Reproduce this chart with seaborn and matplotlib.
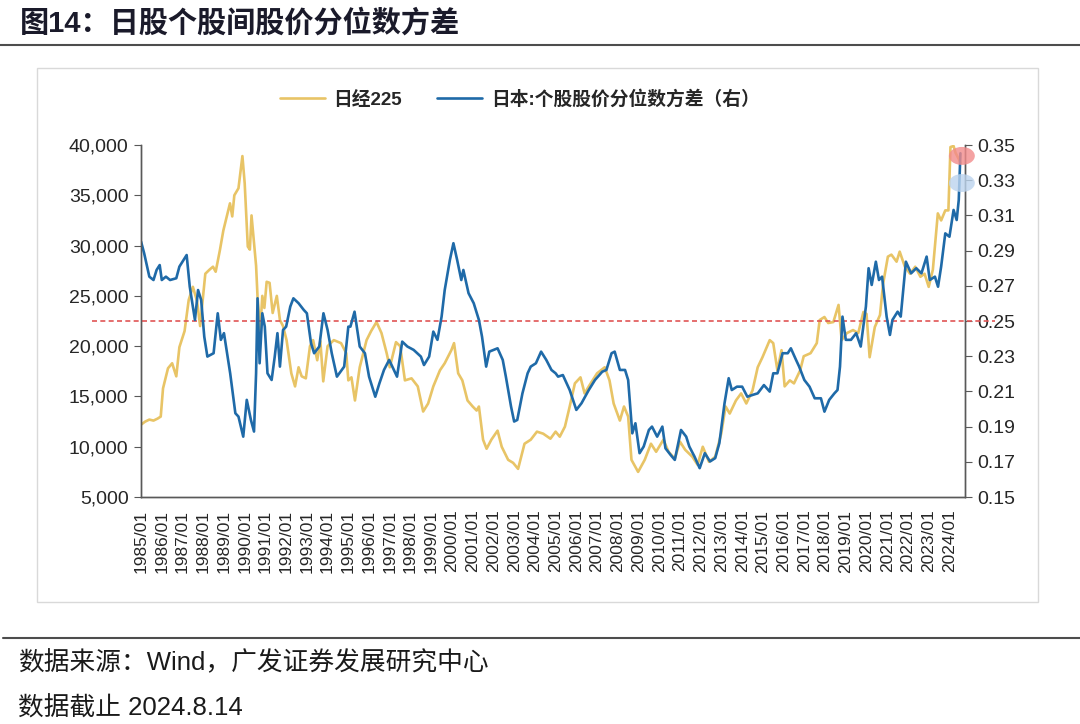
import numpy as np
import pandas as pd
import matplotlib
matplotlib.use("Agg")
import matplotlib.pyplot as plt
from matplotlib.patches import Ellipse, Rectangle
from matplotlib.lines import Line2D
import seaborn as sns

# ---- data (decimal years) ----
nk_t = [1985.0, 1985.2, 1985.4, 1985.6, 1985.8, 1985.95, 1986.06, 1986.3, 1986.5, 1986.7,
        1986.85, 1987.1, 1987.3, 1987.5, 1987.7, 1987.85, 1988.1, 1988.3, 1988.47, 1988.6,
        1988.8, 1988.97, 1989.15, 1989.29, 1989.4, 1989.5, 1989.7, 1989.89, 1990.0, 1990.15,
        1990.25, 1990.33, 1990.45, 1990.55, 1990.62, 1990.75, 1990.85, 1990.95, 1991.06, 1991.2,
        1991.35, 1991.55, 1991.7, 1991.85, 1992.02, 1992.25, 1992.43, 1992.6, 1992.75, 1992.95,
        1993.15, 1993.3, 1993.5, 1993.65, 1993.79, 1994.0, 1994.3, 1994.65, 1994.9, 1995.0,
        1995.15, 1995.32, 1995.55, 1995.88, 1996.1, 1996.36, 1996.6, 1996.85, 1997.0, 1997.3,
        1997.5, 1997.73, 1998.05, 1998.35, 1998.61, 1998.85, 1999.1, 1999.42, 1999.65, 1999.97,
        2000.1, 2000.3, 2000.5, 2000.75, 2001.0, 2001.19, 2001.3, 2001.5, 2001.67, 2001.9,
        2002.2, 2002.4, 2002.71, 2002.95, 2003.19, 2003.5, 2003.8, 2004.1, 2004.4, 2004.75,
        2005.0, 2005.2, 2005.45, 2005.68, 2005.93, 2006.2, 2006.4, 2006.6, 2007.0, 2007.37,
        2007.6, 2007.8, 2008.1, 2008.3, 2008.5, 2008.66, 2008.98, 2009.3, 2009.6, 2009.85,
        2010.2, 2010.45, 2010.75, 2011.0, 2011.25, 2011.6, 2011.85, 2012.1, 2012.4, 2012.7,
        2012.99, 2013.2, 2013.4, 2013.7, 2013.95, 2014.2, 2014.5, 2014.75, 2014.98, 2015.33,
        2015.5, 2015.7, 2015.9, 2016.05, 2016.3, 2016.5, 2016.8, 2016.97, 2017.3, 2017.6,
        2017.74, 2017.97, 2018.15, 2018.4, 2018.65, 2018.8, 2019.05, 2019.35, 2019.6, 2019.85,
        2020.0, 2020.15, 2020.4, 2020.65, 2020.8, 2021.03, 2021.2, 2021.45, 2021.6, 2021.85,
        2022.1, 2022.35, 2022.6, 2022.8, 2023.0, 2023.2, 2023.44, 2023.6, 2023.8, 2023.95,
        2024.05, 2024.2, 2024.3, 2024.45, 2024.53]
nk_v = [12200, 12500, 12700, 12600, 12800, 13000, 15800, 17800, 18300, 17000,
        19900, 21500, 24600, 25900, 24500, 22000, 27200, 27600, 27900, 27400,
        29500, 31500, 33000, 34200, 32900, 35000, 35700, 38900, 36200, 29900,
        29600, 33000, 30300, 28000, 24900, 21500, 25000, 23800, 26400, 26300,
        23300, 25000, 22600, 22000, 20600, 17300, 16000, 17900, 17000, 16800,
        20000, 20600, 18600, 20500, 16500, 20000, 20600, 20300, 19300, 16600,
        16900, 14600, 17900, 20600, 21500, 22400, 21300, 19300, 17900, 20400,
        20000, 16600, 16800, 16000, 13500, 14300, 16000, 17600, 18300, 19600,
        20300, 17300, 16600, 14600, 14000, 13600, 14000, 10700, 9800, 10700,
        11600, 10000, 8700, 8400, 7800, 10300, 10700, 11500, 11300, 10800,
        11500, 11000, 12000, 14000, 16300, 16900, 15300, 16000, 17300, 17900,
        16600, 14300, 12600, 14000, 13000, 8700, 7500, 8700, 10300, 9500,
        10700, 9500, 8800, 10500, 9700, 9000, 8200, 10000, 8500, 9000,
        11300, 14000, 13300, 14600, 15300, 14300, 15600, 17900, 18900, 20600,
        20300, 17600, 19600, 16000, 16600, 16300, 17600, 19000, 19300, 20300,
        22600, 22900, 22300, 22400, 24100, 20600, 21300, 21600, 21300, 23400,
        23200, 18900, 21900, 23100, 26200, 28900, 29100, 28400, 29400, 27900,
        27200, 27900, 26900, 27200, 25900, 27600, 33200, 32500, 33500, 33500,
        39800, 39900, 39200, 38600, 38200]

qv_t = [1985.0, 1985.15, 1985.4, 1985.6, 1985.75, 1985.9, 1986.0, 1986.2, 1986.4, 1986.7,
        1986.85, 1987.2, 1987.35, 1987.6, 1987.75, 1987.9, 1988.05, 1988.2, 1988.5, 1988.7,
        1988.85, 1989.0, 1989.3, 1989.55, 1989.7, 1989.93, 1990.1, 1990.3, 1990.45, 1990.55,
        1990.62, 1990.72, 1990.85, 1990.97, 1991.1, 1991.3, 1991.45, 1991.58, 1991.7, 1991.85,
        1992.0, 1992.2, 1992.35, 1992.6, 1992.85, 1993.0, 1993.2, 1993.35, 1993.6, 1993.8,
        1994.0, 1994.2, 1994.45, 1994.8, 1995.0, 1995.1, 1995.3, 1995.55, 1995.8, 1996.0,
        1996.3, 1996.5, 1996.72, 1996.97, 1997.2, 1997.35, 1997.6, 1997.85, 1998.15, 1998.5,
        1998.65, 1998.9, 1999.1, 1999.3, 1999.5, 1999.65, 1999.9, 2000.07, 2000.25, 2000.45,
        2000.55, 2000.8, 2001.05, 2001.3, 2001.45, 2001.65, 2001.8, 2002.2, 2002.45, 2002.6,
        2002.85, 2003.0, 2003.15, 2003.4, 2003.65, 2003.8, 2004.05, 2004.3, 2004.55, 2004.8,
        2005.0, 2005.12, 2005.35, 2005.68, 2006.0, 2006.25, 2006.6, 2006.9, 2007.25, 2007.45,
        2007.7, 2007.85, 2008.1, 2008.35, 2008.5, 2008.7, 2008.85, 2009.05, 2009.25, 2009.5,
        2009.65, 2009.9, 2010.15, 2010.3, 2010.55, 2010.75, 2011.05, 2011.3, 2011.45, 2011.7,
        2011.95, 2012.2, 2012.45, 2012.7, 2012.9, 2013.15, 2013.35, 2013.5, 2013.75, 2014.0,
        2014.25, 2014.5, 2014.75, 2015.05, 2015.33, 2015.5, 2015.7, 2015.95, 2016.2, 2016.35,
        2016.6, 2016.75, 2017.0, 2017.25, 2017.5, 2017.8, 2017.97, 2018.2, 2018.45, 2018.6,
        2018.72, 2018.84, 2019.0, 2019.25, 2019.5, 2019.72, 2019.97, 2020.1, 2020.25, 2020.45,
        2020.6, 2020.75, 2020.97, 2021.13, 2021.25, 2021.5, 2021.65, 2021.9, 2022.15, 2022.4,
        2022.65, 2022.9, 2023.05, 2023.3, 2023.45, 2023.6, 2023.8, 2024.0, 2024.2, 2024.35,
        2024.45, 2024.53]
qv_v = [0.2951, 0.2885, 0.2752, 0.2733, 0.2790, 0.2818, 0.2733, 0.2752, 0.2733, 0.2743,
        0.2809, 0.2875, 0.2695, 0.2506, 0.2676, 0.2620, 0.2411, 0.2298, 0.2317, 0.2544,
        0.2393, 0.2431, 0.2203, 0.1976, 0.1957, 0.1843, 0.2052, 0.1938, 0.1872, 0.2203,
        0.2629, 0.2260, 0.2544, 0.2468, 0.2203, 0.2165, 0.2298, 0.2431, 0.2241, 0.2449,
        0.2468, 0.2582, 0.2629, 0.2601, 0.2563, 0.2544, 0.2374, 0.2317, 0.2355, 0.2544,
        0.2449, 0.2317, 0.2184, 0.2241, 0.2468, 0.2468, 0.2553, 0.2355, 0.2317, 0.2184,
        0.2070, 0.2146, 0.2222, 0.2279, 0.2222, 0.2184, 0.2383, 0.2355, 0.2336, 0.2298,
        0.2250, 0.2298, 0.2440, 0.2393, 0.2525, 0.2676, 0.2847, 0.2942, 0.2847, 0.2733,
        0.2790, 0.2658, 0.2601, 0.2506, 0.2411, 0.2241, 0.2326, 0.2345, 0.2279, 0.2184,
        0.2014, 0.1929, 0.1938, 0.2089, 0.2203, 0.2241, 0.2260, 0.2326, 0.2279, 0.2222,
        0.2203, 0.2184, 0.2193, 0.2108, 0.1995, 0.2033, 0.2108, 0.2165, 0.2212, 0.2222,
        0.2317, 0.2326, 0.2222, 0.2222, 0.2165, 0.1862, 0.1919, 0.1749, 0.1787, 0.1881,
        0.1900, 0.1843, 0.1900, 0.1777, 0.1739, 0.1711, 0.1881, 0.1843, 0.1787, 0.1730,
        0.1664, 0.1749, 0.1702, 0.1721, 0.1806, 0.2033, 0.2175, 0.2108, 0.2127, 0.2127,
        0.2070, 0.2080, 0.2089, 0.2136, 0.2099, 0.2203, 0.2203, 0.2317, 0.2317, 0.2345,
        0.2279, 0.2241, 0.2165, 0.2127, 0.2061, 0.2061, 0.1985, 0.2052, 0.2089, 0.2108,
        0.2241, 0.2525, 0.2393, 0.2393, 0.2431, 0.2355, 0.2582, 0.2800, 0.2705, 0.2837,
        0.2733, 0.2752, 0.2525, 0.2421, 0.2506, 0.2553, 0.2525, 0.2837, 0.2771, 0.2800,
        0.2771, 0.2866, 0.2733, 0.2752, 0.2695, 0.2809, 0.2998, 0.2979, 0.3131, 0.3074,
        0.3188, 0.3453]

years = list(range(1985, 2025))
left_ticks = [5000, 10000, 15000, 20000, 25000, 30000, 35000, 40000]
right_ticks = [0.15, 0.17, 0.19, 0.21, 0.23, 0.25, 0.27, 0.29, 0.31, 0.33, 0.35]
ref_level = 0.25

GOLD = "#E8C466"
BLUE = "#1F6AA8"
MIX = ["Liberation Sans", "Noto Sans CJK SC", "DejaVu Sans"]

sns.set_style("white")
plt.rcParams['font.family'] = MIX

fig = plt.figure(figsize=(10.8, 7.24), dpi=100)
ax = fig.add_axes([0.1306, 0.3135, 0.7629, 0.4862])
ax2 = ax.twinx()

nk = pd.DataFrame({"t": nk_t, "v": nk_v})
qv = pd.DataFrame({"t": qv_t, "v": qv_v})
sns.lineplot(data=nk, x="t", y="v", ax=ax, color=GOLD, linewidth=1.9, legend=False)
sns.lineplot(data=qv, x="t", y="v", ax=ax2, color=BLUE, linewidth=1.9, legend=False)

ax.set_xlim(1985.0, 2024.75)
ax.set_ylim(5000, 40000)
ax2.set_ylim(0.15, 0.35)
ax.set_yticks(left_ticks)
ax.set_yticklabels([f"{v:,}" for v in left_ticks])
ax2.set_yticks(right_ticks)
ax2.set_yticklabels([f"{v:.2f}" for v in right_ticks])
ax.set_xticks(years)
ax.set_xticklabels([f"{y}/01" for y in years], rotation=90)
ax.set_xlabel("")
ax.set_ylabel("")
ax2.set_ylabel("")

for a in (ax, ax2):
    for s in a.spines.values():
        s.set_color("#595959")
        s.set_linewidth(1.0)
    a.spines["top"].set_visible(False)
ax.tick_params(axis="y", labelsize=14, length=5, color="#595959", direction="out", pad=4)
ax.tick_params(axis="x", labelsize=12.5, length=5, color="#595959", direction="out", pad=4)
ax2.tick_params(axis="y", labelsize=14, length=5, color="#595959", direction="out", pad=4)

# reference dashed line (spans a bit beyond the axes)
ax2.axhline(ref_level, xmin=-0.06, xmax=1.037, color="#E05555", linestyle=(0, (3, 2)),
            linewidth=1.2, clip_on=False, zorder=1)

# highlight markers at the latest readings
ax2.add_patch(Ellipse((2024.6, 0.3438), 1.25, 0.0102, color="#F28B8B", alpha=0.8,
                      clip_on=False, zorder=5, lw=0))
ax2.add_patch(Ellipse((2024.6, 0.3284), 1.25, 0.0102, color="#BCD4EE", alpha=0.8,
                      clip_on=False, zorder=5, lw=0))

# legend
handles = [Line2D([], [], color=GOLD, lw=1.9), Line2D([], [], color=BLUE, lw=1.9)]
fig.legend(handles, ["日经225", "日本:个股股价分位数方差（右）"], loc="center",
           bbox_to_anchor=(0.481, 0.863), ncol=2, frameon=False, handlelength=2.4,
           columnspacing=1.9, handletextpad=0.45,
           prop={"family": MIX, "size": 13.5, "weight": "bold"})

# chart frame, title and footer
fig.add_artist(Rectangle((0.0343, 0.1685), 0.9269, 0.7376, transform=fig.transFigure,
                         fill=False, edgecolor="#D9D9D9", linewidth=1.0))
fig.add_artist(Line2D([0.0, 1.0], [0.938, 0.938], transform=fig.transFigure,
                      color="#4D4D4D", linewidth=1.5))
fig.add_artist(Line2D([0.003, 1.0], [0.119, 0.119], transform=fig.transFigure,
                      color="#4D4D4D", linewidth=1.5))
fig.text(0.018, 0.968, "图14：日股个股间股价分位数方差", family=MIX, fontsize=21,
         fontweight="bold", color="#1A1A2A", va="center", ha="left")
fig.text(0.017, 0.084, "数据来源：Wind，广发证券发展研究中心", family=MIX, fontsize=18.5,
         color="#1A1A1A", va="center", ha="left")
fig.text(0.017, 0.022, "数据截止 2024.8.14", family=MIX, fontsize=18.5,
         color="#1A1A1A", va="center", ha="left")

fig.savefig("out.png", dpi=100)
